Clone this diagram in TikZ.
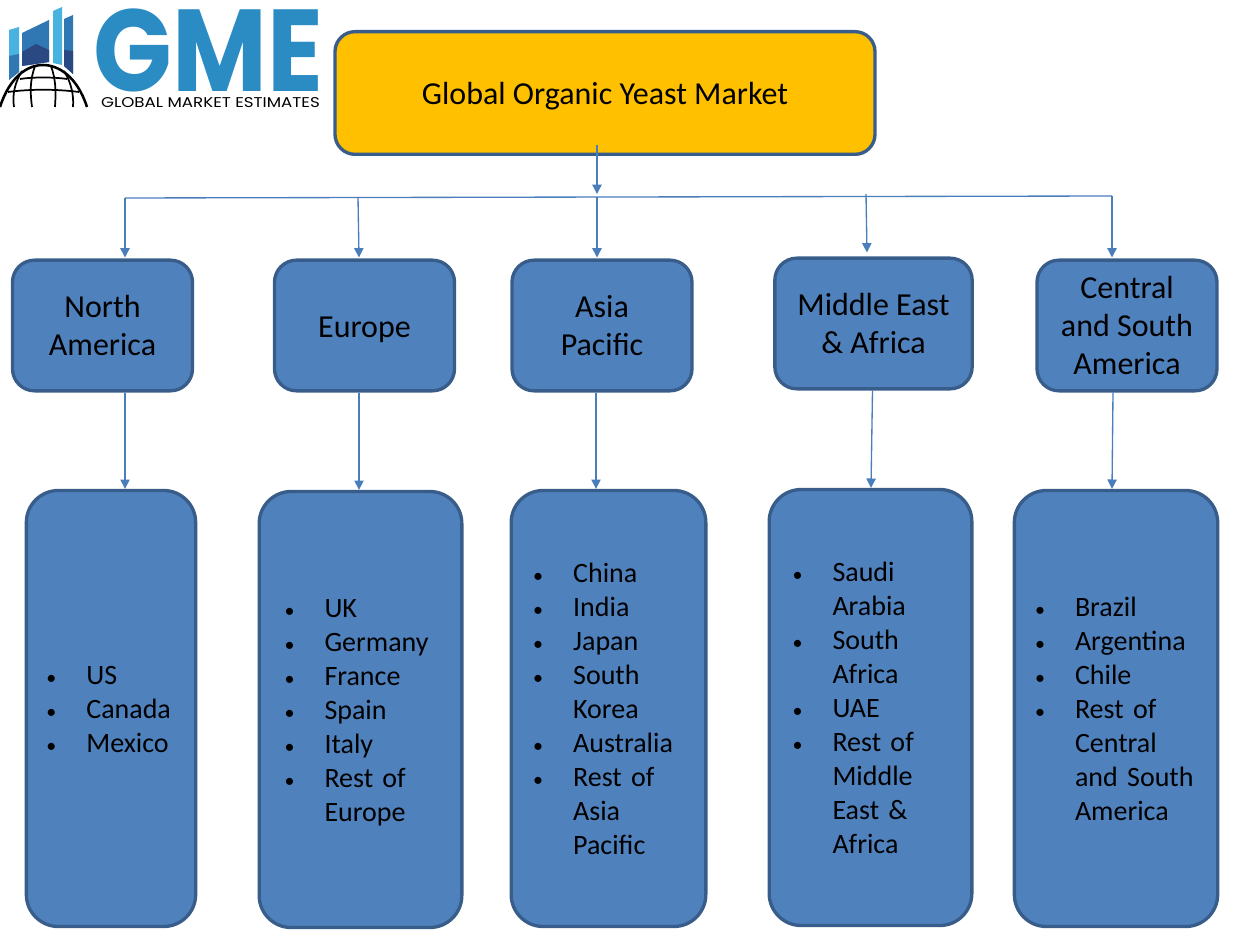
\documentclass[tikz,border=0pt]{standalone}
\usepackage{fontspec}
\setmainfont{Carlito}
\newfontfamily\logofont{Poppins}
\usetikzlibrary{arrows.meta,positioning,calc}
\definecolor{BoxBlue}{RGB}{79,129,189}
\definecolor{BoxEdge}{RGB}{56,93,138}
\definecolor{TitleGold}{RGB}{255,192,0}
\definecolor{LineBlue}{RGB}{74,126,187}
\definecolor{LogoBlue}{RGB}{43,140,196}
\definecolor{LogoSky}{RGB}{72,179,222}
\definecolor{LogoMid}{RGB}{48,120,180}
\definecolor{LogoNavy}{RGB}{42,72,130}
\newcommand{\placemark}{{\fontsize{15}{15}\selectfont\textbullet}}
\newenvironment{placelist}{\begin{tabular}{@{}p{30pt}@{}l@{}}\noalign{\vskip4.5pt}}{\end{tabular}}
\tikzset{
  titlebox/.style={draw=BoxEdge,fill=TitleGold,line width=2.5pt,rounded corners=15pt,
    minimum width=405pt,minimum height=92pt,align=center,
    font=\fontsize{24}{29}\selectfont},
  regionbox/.style={draw=BoxEdge,fill=BoxBlue,line width=2.5pt,rounded corners=16.5pt,
    minimum width=135pt,minimum height=98pt,inner sep=0pt,align=center,
    font=\fontsize{24}{28.5}\selectfont},
  listbox/.style 2 args={draw=BoxEdge,fill=BoxBlue,line width=2.5pt,rounded corners=24pt,
    inner xsep=#2,inner ysep=0pt,text width=#1-2*#2,minimum height=327pt,align=left,
    font=\fontsize{21}{25.5}\selectfont},
  globeline/.style={black,line width=1.3pt},
  arrow/.style={-{Triangle[length=7pt,width=7pt]},line width=1pt,LineBlue}
}
\begin{document}
\begin{tikzpicture}[x=0.75pt,y=-0.75pt]
\useasboundingbox (0,0) rectangle (1238,930);

% Logo bars
\fill[LogoSky] (9,30) -- (19,27) -- (19,72) -- (9,80) -- cycle;
\fill[LogoMid] (9,56) -- (19,54) -- (19,72) -- (9,80) -- cycle;
\fill[LogoMid] (22,33) -- (49,20) -- (49,62) -- (22,66) -- cycle;
\fill[LogoNavy] (22,52) -- (36,44) -- (49,50) -- (49,62) -- (22,66) -- cycle;
\fill[LogoSky] (53,11) -- (62,7) -- (62,65) -- (53,63) -- cycle;
\fill[LogoMid] (64,19) -- (73,15) -- (73,74) -- (64,66) -- cycle;
\fill[LogoNavy] (64,50) -- (73,51) -- (73,74) -- (64,66) -- cycle;

% Logo globe
\draw[globeline,line width=1.9pt] (0,107) .. controls (10,76) and (28,65) .. (43,65)
  .. controls (58,65) and (77,76) .. (87,107);
\draw[globeline] (20,79) .. controls (32,77) and (54,77) .. (67,79);
\draw[globeline] (8,92) .. controls (30,89) and (56,89) .. (79,92);
\draw[globeline] (35,66) .. controls (30,80) and (30,92) .. (32,107);
\draw[globeline] (51,66) .. controls (56,80) and (56,92) .. (55,107);
\draw[globeline] (22,71) .. controls (15,82) and (12,95) .. (14,107);
\draw[globeline] (64,71) .. controls (71,82) and (74,95) .. (73,107);

% Logo lettering
\node[LogoBlue,inner sep=0pt] (gme) at (208.5,50.5)
  {\resizebox{172pt}{62pt}{\logofont\bfseries GME}};
\node[black,inner sep=0pt] (tagline) at (210.5,103)
  {\resizebox{164pt}{7.5pt}{\logofont GLOBAL MARKET ESTIMATES}};

% Title
\node[titlebox] (title) at (605,93) {\rule{0pt}{22pt}Global Organic Yeast Market};

% Regions
\node[regionbox] (na) at (102.5,325.5) {North\\America};
\node[regionbox] (eu) at (364.5,325.5) {\rule{0pt}{22pt}Europe};
\node[regionbox] (ap) at (602,325.5) {Asia\\Pacific};
\node[regionbox,minimum width=148pt] (mea) at (873.5,323.5) {Middle East\\\& Africa};
\node[regionbox] (csa) at (1127,325.5) {Central\\and South\\America};

% Country lists
\node[listbox={127pt}{15pt}] (nalist) at (111,708.5) {\begin{placelist}
  \placemark & US\\ \placemark & Canada\\ \placemark & Mexico
\end{placelist}};
\node[listbox={152pt}{19pt}] (eulist) at (360.5,709.5) {\begin{placelist}
  \placemark & UK\\ \placemark & Germany\\ \placemark & France\\ \placemark & Spain\\
  \placemark & Italy\\ \placemark & Rest of\\ & Europe
\end{placelist}};
\node[listbox={146pt}{16.5pt}] (aplist) at (608.5,708.5) {\begin{placelist}
  \placemark & China\\ \placemark & India\\ \placemark & Japan\\ \placemark & South\\
  & Korea\\ \placemark & Australia\\ \placemark & Rest of\\ & Asia\\ & Pacific
\end{placelist}};
\node[listbox={152pt}{17.5pt}] (mealist) at (870.5,707.5) {\begin{placelist}
  \placemark & Saudi\\ & Arabia\\ \placemark & South\\ & Africa\\ \placemark & UAE\\
  \placemark & Rest of\\ & Middle\\ & East \&\\ & Africa
\end{placelist}};
\node[listbox={152.5pt}{15.5pt}] (csalist) at (1116,708.5) {\begin{placelist}
  \placemark & Brazil\\ \placemark & Argentina\\ \placemark & Chile\\ \placemark & Rest of\\
  & Central\\ & and South\\ & America
\end{placelist}};

% Bus line and its taps
\coordinate (busw) at (125,198);
\coordinate (buse) at (1112,196);
\coordinate (titletap) at (597,145);
\coordinate (titleend) at (597,194);
\coordinate (tapeu) at (358,197);
\coordinate (tapap) at (597,197);
\coordinate (tapmea) at (866,194);
\draw[line width=1pt,LineBlue] (busw) -- (buse);
\draw[arrow] (titletap) -- (titleend);

% Arrows down to the regions
\draw[arrow] (busw) -- ($(busw |- na.north)+(0,-1)$);
\draw[arrow] (tapeu) -- ($(eu.north -| tapeu)+(1,-1)$);
\draw[arrow] (tapap) -- ($(ap.north -| tapap)+(0,-1)$);
\draw[arrow] (tapmea) -- ($(mea.north -| tapmea)+(1,-4)$);
\draw[arrow] (buse) -- ($(csa.north -| buse)+(0,-1)$);

% Arrows down to the lists
\draw[arrow] (na.south -| busw) -- (nalist.north -| busw);
\draw[arrow] ($(eu.south -| tapeu)+(1,0)$) -- ($(eulist.north -| tapeu)+(1,0)$);
\draw[arrow] ($(ap.south -| tapap)+(-1,0)$) -- ($(aplist.north -| tapap)+(-1,0)$);
\draw[arrow] ($(mea.south)+(-1,0)$) -- ($(mealist.north)+(0.5,0)$);
\draw[arrow] ($(csa.south -| buse)+(1,0)$) -- (csalist.north -| buse);

\end{tikzpicture}
\end{document}
